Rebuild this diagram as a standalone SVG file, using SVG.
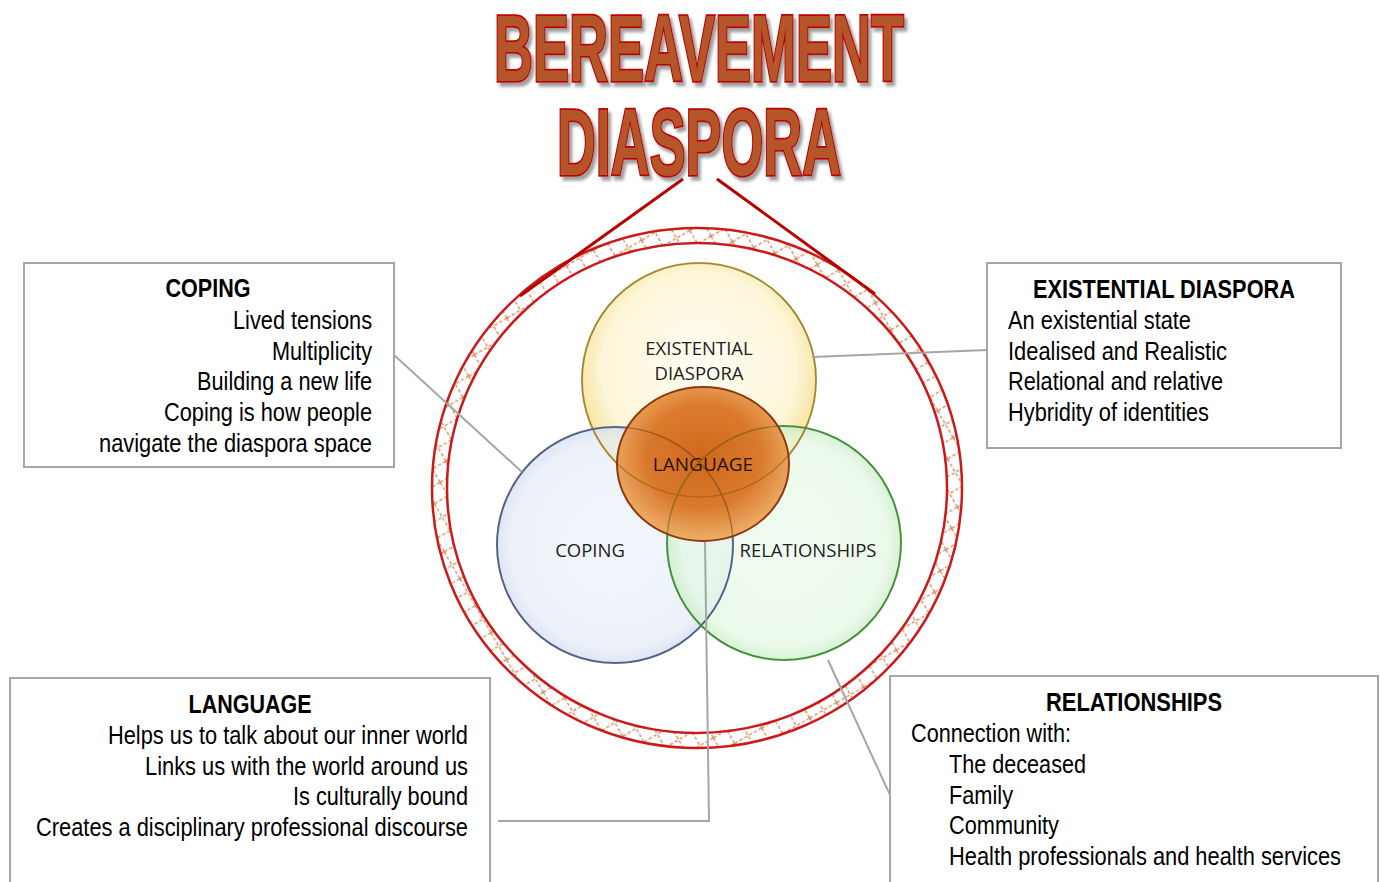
<svg xmlns="http://www.w3.org/2000/svg" width="1380" height="882" viewBox="0 0 1380 882">
<style>
.box{fill:#fff;stroke:#a6a6a6;stroke-width:2}
.t{font-family:"Liberation Sans",Arial,sans-serif;font-size:25px;fill:#000}
.h{font-weight:bold;text-anchor:middle}
.r{text-anchor:end}
.c{font-family:"Open Sans","Noto Sans",sans-serif;font-size:18.5px;fill:#1e1e1e;text-anchor:middle}
.conn{stroke:#a6a6a6;stroke-width:2;fill:none}
.title{font-family:"Liberation Sans",sans-serif;font-weight:bold;font-size:94px;fill:#b5552b;stroke:#c00000;stroke-width:3.5;paint-order:stroke;filter:url(#shadow)}
</style>
<defs>
<filter id="shadow" x="-10%" y="-20%" width="120%" height="140%">
<feDropShadow dx="3" dy="4" stdDeviation="1.5" flood-color="#777" flood-opacity=".7"/>
</filter>
<pattern id="hatch" width="22" height="22" patternUnits="userSpaceOnUse" patternTransform="rotate(15)">
<path d="M0 0 L22 22 M22 0 L0 22" stroke="#cf8a5a" stroke-width="1.3" stroke-dasharray="3.5 2" fill="none"/>
</pattern>
<radialGradient id="gy" cx="50%" cy="45%" r="55%"><stop offset="0" stop-color="#fffdf3"/><stop offset=".75" stop-color="#fdf5d6"/><stop offset="1" stop-color="#f4df8a"/></radialGradient>
<radialGradient id="gb" cx="50%" cy="50%" r="55%"><stop offset="0" stop-color="#eef2fa"/><stop offset=".8" stop-color="#e6ecf7"/><stop offset="1" stop-color="#c3d2ee"/></radialGradient>
<radialGradient id="gg" cx="50%" cy="50%" r="55%"><stop offset="0" stop-color="#ecfaec"/><stop offset=".8" stop-color="#e2f7e2"/><stop offset="1" stop-color="#aee5a8"/></radialGradient>
<radialGradient id="go" cx="50%" cy="45%" r="55%"><stop offset="0" stop-color="#cc5a08"/><stop offset=".6" stop-color="#d76c18"/><stop offset="1" stop-color="#eea65a"/></radialGradient>
</defs>

<g id="title">
<text class="title" x="699" y="81" text-anchor="middle" textLength="410" lengthAdjust="spacingAndGlyphs">BEREAVEMENT</text>
<text class="title" x="699" y="175" text-anchor="middle" textLength="284" lengthAdjust="spacingAndGlyphs">DIASPORA</text>
</g>

<g id="ring">
<path d="M432 488 a265 260 0 1 0 530 0 a265 260 0 1 0 -530 0 Z M447 488 a250 245 0 1 0 500 0 a250 245 0 1 0 -500 0 Z" fill="url(#hatch)" fill-rule="evenodd"/>
<ellipse cx="697" cy="488" rx="265" ry="260" fill="none" stroke="#cc1a1a" stroke-width="2.5"/>
<ellipse cx="697" cy="488" rx="250" ry="245" fill="none" stroke="#cc1a1a" stroke-width="2.5"/>
<path d="M683 179 L520 296 M717 179 L875 294" stroke="#b80000" stroke-width="3" fill="none"/>
</g>

<g id="venn-existential">
<circle cx="699" cy="380" r="117" fill="url(#gy)" fill-opacity=".95"/>
</g>
<g id="venn-coping">
<circle cx="615" cy="545" r="118" fill="url(#gb)" fill-opacity=".75"/>
</g>
<g id="venn-relationships">
<circle cx="784" cy="543" r="117" fill="url(#gg)" fill-opacity=".7"/>
</g>
<g id="venn-outlines" fill="none" stroke-width="2">
<circle cx="699" cy="380" r="117" stroke="#b9a650"/>
<circle cx="615" cy="545" r="118" stroke="#5c78ad"/>
<circle cx="784" cy="543" r="117" stroke="#52a852"/>
</g>
<g id="venn-language">
<ellipse cx="703" cy="464" rx="86" ry="77" fill="url(#go)" fill-opacity=".9"/>
<g fill="none" stroke-width="1.2" opacity=".45">
<circle cx="699" cy="380" r="117" stroke="#7a5a10"/>
<circle cx="615" cy="545" r="118" stroke="#5a3a20"/>
<circle cx="784" cy="543" r="117" stroke="#4a5a20"/>
</g>
<ellipse cx="703" cy="464" rx="86" ry="77" fill="none" stroke="#8e3a0c" stroke-width="2"/>
</g>
<g id="venn-labels">
<text class="c" x="699" y="355">EXISTENTIAL</text>
<text class="c" x="699" y="380">DIASPORA</text>
<text class="c" x="703" y="471" style="fill:#2a1206;font-size:19px">LANGUAGE</text>
<text class="c" x="590" y="557">COPING</text>
<text class="c" x="808" y="557">RELATIONSHIPS</text>
</g>

<g id="connectors">
<line class="conn" x1="394" y1="355" x2="522" y2="472"/>
<line class="conn" x1="987" y1="350" x2="812" y2="357"/>
<polyline class="conn" points="498,821 709,821 705,542"/>
<line class="conn" x1="828" y1="660" x2="890" y2="795"/>
</g>

<g id="box-coping">
<rect class="box" x="24" y="263" width="370" height="204"/>
<text class="t h" x="208" y="297" textLength="85" lengthAdjust="spacingAndGlyphs">COPING</text>
<text class="t r" x="372" y="329" textLength="139" lengthAdjust="spacingAndGlyphs">Lived tensions</text>
<text class="t r" x="372" y="360" textLength="100" lengthAdjust="spacingAndGlyphs">Multiplicity</text>
<text class="t r" x="372" y="390" textLength="175" lengthAdjust="spacingAndGlyphs">Building a new life</text>
<text class="t r" x="372" y="421" textLength="208" lengthAdjust="spacingAndGlyphs">Coping is how people</text>
<text class="t r" x="372" y="452" textLength="273" lengthAdjust="spacingAndGlyphs">navigate the diaspora space</text>
</g>

<g id="box-existential">
<rect class="box" x="987" y="263" width="354" height="185"/>
<text class="t h" x="1164" y="298" textLength="262" lengthAdjust="spacingAndGlyphs">EXISTENTIAL DIASPORA</text>
<text class="t" x="1008" y="329" textLength="183" lengthAdjust="spacingAndGlyphs">An existential state</text>
<text class="t" x="1008" y="360" textLength="219" lengthAdjust="spacingAndGlyphs">Idealised and Realistic</text>
<text class="t" x="1008" y="390" textLength="215" lengthAdjust="spacingAndGlyphs">Relational and relative</text>
<text class="t" x="1008" y="421" textLength="201" lengthAdjust="spacingAndGlyphs">Hybridity of identities</text>
</g>

<g id="box-language">
<rect class="box" x="10" y="678" width="480" height="214"/>
<text class="t h" x="250" y="713" textLength="123" lengthAdjust="spacingAndGlyphs">LANGUAGE</text>
<text class="t r" x="468" y="744" textLength="360" lengthAdjust="spacingAndGlyphs">Helps us to talk about our inner world</text>
<text class="t r" x="468" y="775" textLength="323" lengthAdjust="spacingAndGlyphs">Links us with the world around us</text>
<text class="t r" x="468" y="805" textLength="175" lengthAdjust="spacingAndGlyphs">Is culturally bound</text>
<text class="t r" x="468" y="836" textLength="432" lengthAdjust="spacingAndGlyphs">Creates a disciplinary professional discourse</text>
</g>

<g id="box-relationships">
<rect class="box" x="890" y="676" width="488" height="216"/>
<text class="t h" x="1134" y="711" textLength="176" lengthAdjust="spacingAndGlyphs">RELATIONSHIPS</text>
<text class="t" x="911" y="742" textLength="160" lengthAdjust="spacingAndGlyphs">Connection with:</text>
<text class="t" x="949" y="773" textLength="137" lengthAdjust="spacingAndGlyphs">The deceased</text>
<text class="t" x="949" y="804" textLength="64" lengthAdjust="spacingAndGlyphs">Family</text>
<text class="t" x="949" y="834" textLength="110" lengthAdjust="spacingAndGlyphs">Community</text>
<text class="t" x="949" y="865" textLength="392" lengthAdjust="spacingAndGlyphs">Health professionals and health services</text>
</g>
</svg>
